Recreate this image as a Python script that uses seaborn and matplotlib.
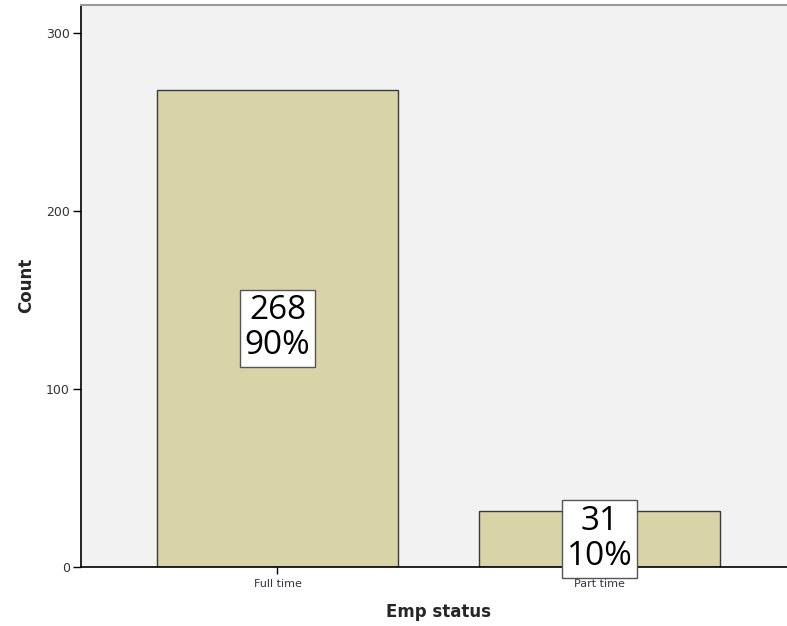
import pandas as pd
import matplotlib
matplotlib.use('Agg')
import matplotlib.pyplot as plt
import seaborn as sns

## data
emp_status = ['Full time', 'Part time']
counts = [268, 31]
pcts = ['90%', '10%']

df = pd.DataFrame({'emp_status': emp_status, 'count': counts})

sns.set_style('white')
plt.rcParams['font.family'] = ['DejaVu Sans']

fig = plt.figure(figsize=(7.87, 6.26), dpi=100)
ax = fig.add_axes([81/787, 1 - 566.5/626, (796 - 81)/787, (566.5 - 5)/626])
ax.set_facecolor('#f2f2f2')

sns.barplot(data=df, x='emp_status', y='count', color='#d9d4a8', width=0.75,
            edgecolor='#3a3a3a', linewidth=1.0, saturation=1, ax=ax)

ax.set_xlim(-0.61, 1.61)
ax.set_ylim(0, 316)
ax.set_yticks([0, 100, 200, 300])

# value + percent labels in a box at mid-bar
for i, (c, p) in enumerate(zip(counts, pcts)):
    ax.text(i, c / 2, f'{c}\n{p}', ha='center', va='center', fontsize=24,
            family=['Open Sans', 'DejaVu Sans'],
            linespacing=1.08, color='black', zorder=5,
            bbox=dict(boxstyle='square,pad=0.14', fc='white', ec='#555555', lw=1))

for side in ['left', 'bottom']:
    ax.spines[side].set_color('black')
    ax.spines[side].set_linewidth(1.2)
ax.spines['top'].set_color('#999999')
ax.spines['top'].set_linewidth(1.5)
ax.spines['right'].set_visible(False)

ax.tick_params(axis='y', length=6, width=1, color='black', labelsize=9, labelcolor='#333333', pad=2, left=True)
ax.tick_params(axis='x', length=5, width=1, color='black', labelsize=8, labelcolor='#333344', pad=4, bottom=True)

ax.set_xlabel('Emp status', fontsize=12, fontweight='bold', labelpad=10)
ax.set_ylabel('Count', fontsize=12, fontweight='bold', labelpad=8)

fig.savefig('out.png', dpi=100)
